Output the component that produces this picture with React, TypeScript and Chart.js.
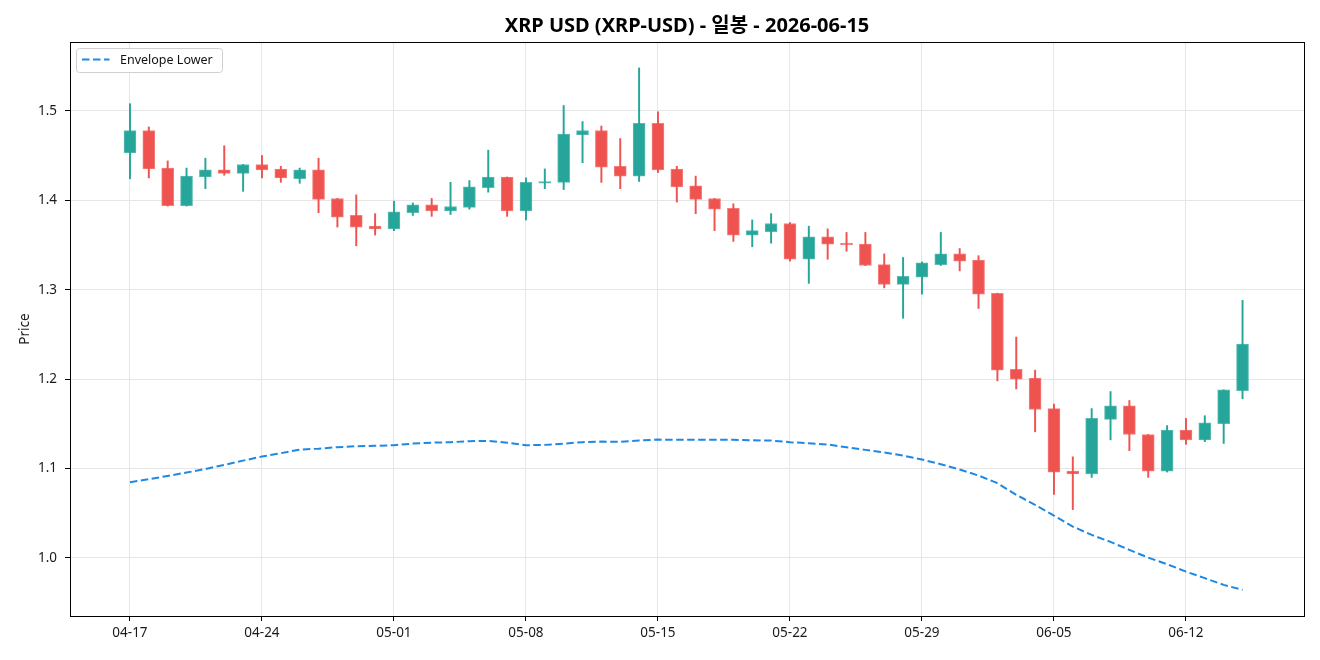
import React, { useEffect, useRef } from 'react';
import { Chart, registerables } from 'chart.js';
Chart.register(...registerables);

const dates = [
  '04-17','04-18','04-19','04-20','04-21','04-22','04-23','04-24','04-25','04-26',
  '04-27','04-28','04-29','04-30','05-01','05-02','05-03','05-04','05-05','05-06',
  '05-07','05-08','05-09','05-10','05-11','05-12','05-13','05-14','05-15','05-16',
  '05-17','05-18','05-19','05-20','05-21','05-22','05-23','05-24','05-25','05-26',
  '05-27','05-28','05-29','05-30','05-31','06-01','06-02','06-03','06-04','06-05',
  '06-06','06-07','06-08','06-09','06-10','06-11','06-12','06-13','06-14','06-15',
];

const openP = [
  1.453, 1.478, 1.436, 1.394, 1.426, 1.434, 1.430, 1.440, 1.435, 1.424,
  1.434, 1.402, 1.383, 1.371, 1.368, 1.386, 1.395, 1.388, 1.392, 1.414,
  1.426, 1.388, 1.419, 1.420, 1.473, 1.478, 1.438, 1.427, 1.486, 1.435,
  1.416, 1.402, 1.391, 1.361, 1.365, 1.374, 1.334, 1.359, 1.352, 1.351,
  1.328, 1.306, 1.314, 1.328, 1.340, 1.333, 1.296, 1.211, 1.201, 1.167,
  1.097, 1.094, 1.155, 1.170, 1.138, 1.097, 1.143, 1.132, 1.150, 1.187,
];
const highP = [
  1.508, 1.482, 1.444, 1.436, 1.447, 1.461, 1.440, 1.450, 1.438, 1.436,
  1.447, 1.402, 1.406, 1.385, 1.399, 1.397, 1.402, 1.420, 1.422, 1.456,
  1.426, 1.425, 1.435, 1.506, 1.488, 1.483, 1.469, 1.548, 1.499, 1.438,
  1.427, 1.402, 1.396, 1.378, 1.385, 1.375, 1.371, 1.368, 1.364, 1.364,
  1.340, 1.336, 1.331, 1.364, 1.346, 1.338, 1.296, 1.247, 1.210, 1.172,
  1.113, 1.167, 1.186, 1.176, 1.138, 1.148, 1.156, 1.159, 1.188, 1.288,
];
const lowP = [
  1.424, 1.425, 1.3935, 1.3935, 1.413, 1.428, 1.410, 1.425, 1.420, 1.419,
  1.386, 1.370, 1.349, 1.361, 1.366, 1.383, 1.382, 1.384, 1.390, 1.409,
  1.382, 1.378, 1.413, 1.412, 1.442, 1.420, 1.413, 1.421, 1.431, 1.398,
  1.385, 1.366, 1.354, 1.348, 1.352, 1.332, 1.307, 1.334, 1.343, 1.327,
  1.302, 1.268, 1.295, 1.327, 1.321, 1.279, 1.198, 1.189, 1.141, 1.071,
  1.054, 1.090, 1.132, 1.120, 1.090, 1.096, 1.127, 1.130, 1.128, 1.178,
];
const closeP = [
  1.478, 1.435, 1.394, 1.427, 1.434, 1.430, 1.440, 1.434, 1.425, 1.434,
  1.401, 1.381, 1.370, 1.368, 1.387, 1.395, 1.388, 1.393, 1.415, 1.426,
  1.388, 1.420, 1.421, 1.474, 1.478, 1.437, 1.427, 1.486, 1.434, 1.415,
  1.401, 1.390, 1.361, 1.366, 1.374, 1.334, 1.359, 1.351, 1.350, 1.327,
  1.306, 1.315, 1.330, 1.340, 1.332, 1.295, 1.210, 1.200, 1.166, 1.096,
  1.094, 1.156, 1.170, 1.138, 1.097, 1.143, 1.132, 1.151, 1.188, 1.239,
];
const envLower = [
  1.0847, 1.0880, 1.0917, 1.0954, 1.0994, 1.1040, 1.1088, 1.1133, 1.1171, 1.1211,
  1.1222, 1.1238, 1.1249, 1.1253, 1.1260, 1.1278, 1.1289, 1.1294, 1.1305, 1.1309,
  1.1289, 1.1260, 1.1264, 1.1278, 1.1294, 1.1301, 1.1298, 1.1312, 1.1323, 1.1320,
  1.1320, 1.1320, 1.1320, 1.1316, 1.1312, 1.1294, 1.1283, 1.1268, 1.1238, 1.1208,
  1.1178, 1.1145, 1.1100, 1.1048, 1.0988, 1.0921, 1.0836, 1.0705, 1.0593, 1.0474,
  1.0350, 1.0257, 1.0179, 1.0089, 1.0003, 0.9929, 0.9847, 0.9773, 0.9698, 0.9642,
];

const xTickDays = [0, 7, 14, 21, 28, 35, 42, 49, 56];
const yTickValues = [1.0, 1.1, 1.2, 1.3, 1.4, 1.5];

const TITLE = 'XRP USD (XRP-USD) - 일봉 - 2026-06-15';
const LEGEND_LABEL = 'Envelope Lower';
const FONT = "'Noto Sans', 'Noto Sans CJK KR', sans-serif";

export default function App() {
  const ref = useRef<HTMLCanvasElement>(null);

  useEffect(() => {
    const up = '#26a69a';
    const down = '#ef5350';
    const upEdge = 'rgba(38,166,154,0.75)';
    const downEdge = 'rgba(239,83,80,0.75)';
    const idx = dates.map((_, i) => i);
    const colors = idx.map((i) => (closeP[i] >= openP[i] ? up : down));
    const edges = idx.map((i) => (closeP[i] >= openP[i] ? upEdge : downEdge));
    const bodies = idx.map((i) => ({ x: i, y: [openP[i], closeP[i]] }));
    const wicks = idx.map((i) => ({ x: i, y: [lowP[i], highP[i]] }));
    const env = idx.map((i) => ({ x: i, y: envLower[i] }));

    const decor = {
      id: 'decor',
      afterDraw(chart: any) {
        const { ctx, chartArea } = chart;
        const { left, right, top, bottom } = chartArea;
        ctx.save();
        ctx.strokeStyle = '#000';
        ctx.lineWidth = 1;
        ctx.strokeRect(Math.round(left) + 0.5, Math.round(top) + 0.5, Math.round(right - left), Math.round(bottom - top));
        // title
        ctx.fillStyle = '#000';
        ctx.font = `bold 20px ${FONT}`;
        ctx.textAlign = 'center';
        ctx.textBaseline = 'middle';
        ctx.fillText(TITLE, (left + right) / 2, 26);
        // legend
        const lx = left + 6.5, ly = top + 6.5, lw = 146, lh = 24;
        ctx.beginPath();
        ctx.roundRect(lx, ly, lw, lh, 3);
        ctx.fillStyle = 'rgba(255,255,255,0.85)';
        ctx.fill();
        ctx.strokeStyle = '#d0d0d0';
        ctx.lineWidth = 1;
        ctx.stroke();
        ctx.beginPath();
        ctx.setLineDash([7.5, 3.5]);
        ctx.strokeStyle = '#1e88e5';
        ctx.lineWidth = 2;
        ctx.moveTo(lx + 5.5, ly + 11);
        ctx.lineTo(lx + 33, ly + 11);
        ctx.stroke();
        ctx.setLineDash([]);
        ctx.fillStyle = '#111';
        ctx.font = `12.5px ${FONT}`;
        ctx.textAlign = 'left';
        ctx.textBaseline = 'middle';
        ctx.fillText(LEGEND_LABEL, lx + 43.5, ly + 11.5);
        ctx.restore();
      },
    };

    const chart = new Chart(ref.current as HTMLCanvasElement, {
      type: 'bar',
      data: {
        datasets: [
          {
            type: 'line',
            label: LEGEND_LABEL,
            data: env as any,
            borderColor: '#1e88e5',
            borderWidth: 2,
            borderDash: [7.5, 3.5],
            pointRadius: 0,
            fill: false,
            tension: 0,
            order: 0,
          } as any,
          {
            type: 'bar',
            label: 'body',
            data: bodies as any,
            backgroundColor: colors,
            borderColor: edges,
            borderWidth: 1,
            borderSkipped: false,
            barThickness: 12,
            grouped: false,
            order: 1,
          } as any,
          {
            type: 'bar',
            label: 'wick',
            data: wicks as any,
            backgroundColor: colors,
            borderWidth: 0,
            barThickness: 1.3,
            grouped: false,
            order: 2,
          } as any,
        ],
      },
      options: {
        animation: false,
        responsive: false,
        devicePixelRatio: 1,
        layout: { padding: { left: 0, right: 16, top: 42, bottom: 0 } },
        plugins: { legend: { display: false }, title: { display: false }, tooltip: { enabled: false } },
        scales: {
          x: {
            type: 'linear',
            min: -3.18,
            max: 62.26,
            offset: false,
            grid: { color: '#e6e6e6', lineWidth: 1, tickColor: '#000', tickLength: 5, drawTicks: true, offset: false },
            border: { color: '#000', width: 1 },
            ticks: {
              font: { family: FONT, size: 13.5 },
              color: '#1a1a1a',
              padding: 4,
              maxRotation: 0,
              autoSkip: false,
              callback: (v: any) => dates[Math.round(Number(v))] ?? '',
            },
            afterBuildTicks: (s: any) => {
              s.ticks = xTickDays.map((d) => ({ value: d }));
            },
            afterFit: (s: any) => {
              s.height = 44;
            },
          },
          y: {
            type: 'linear',
            min: 0.935,
            max: 1.577,
            grid: { color: '#e6e6e6', lineWidth: 1, tickColor: '#000', tickLength: 5, drawTicks: true },
            border: { color: '#000', width: 1 },
            ticks: {
              font: { family: FONT, size: 13.5 },
              color: '#1a1a1a',
              padding: 8,
              callback: (v: any) => Number(v).toFixed(1),
            },
            afterBuildTicks: (s: any) => {
              s.ticks = yTickValues.map((v) => ({ value: v }));
            },
            title: {
              display: true,
              text: 'Price',
              font: { family: FONT, size: 13.5 },
              color: '#1a1a1a',
              padding: { top: 17, bottom: 0 },
            },
            afterFit: (s: any) => {
              s.width = 70;
            },
          },
        },
      } as any,
      plugins: [decor],
    });
    return () => chart.destroy();
  }, []);

  return (
    <div style={{ position: 'fixed', left: 0, top: 0, width: 1320, height: 660, background: '#fff' }}>
      <canvas ref={ref} width={1320} height={660} style={{ width: 1320, height: 660, display: 'block' }} />
    </div>
  );
}
